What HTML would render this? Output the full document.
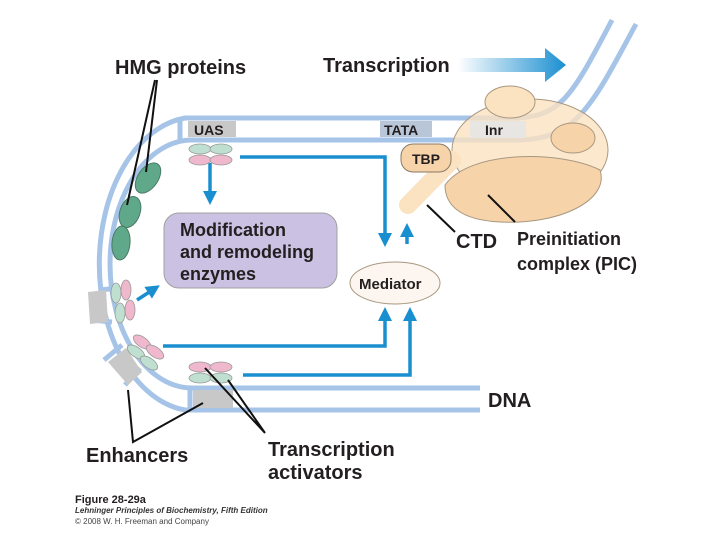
<!DOCTYPE html>
<html><head><meta charset="utf-8"><style>
html,body{margin:0;padding:0;background:#fff;}
svg{display:block;font-family:"Liberation Sans",sans-serif;}
.b{font-weight:bold;fill:#231f20;}
</style></head><body>
<svg width="720" height="540" viewBox="0 0 720 540" xmlns="http://www.w3.org/2000/svg">
<defs>
<linearGradient id="g" x1="0" x2="1"><stop offset="0" stop-color="#1a8fd0" stop-opacity="0"/><stop offset="1" stop-color="#1a8fd0"/></linearGradient>
<marker id="ah" markerWidth="4" markerHeight="4" refX="2" refY="2" orient="auto" markerUnits="strokeWidth"><path d="M0,0 L4,2 L0,4 Z" fill="#1a8fd0"/></marker>
</defs>
<path d="M458,58 H545 V48 L566,65 L545,82 V72 H458 Z" fill="url(#g)"/>
<g fill="none" stroke="#a6c4e8" stroke-width="5">
<path d="M520,118 H185 A97,147 0 0 0 185,410 H480"/>
<path d="M520,140 H192 A82,124 0 0 0 192,388 H480"/>
<path d="M510,118 C560,118 570,100 612,20"/>
<path d="M515,140 C575,140 590,110 636,24"/>
<path d="M100,290 L118,288 M92,320 L112,322 M104,360 L122,345 M125,385 L140,368 M190,388 V410 M180,118 V140"/>
</g>
<rect x="188" y="121" width="48" height="16" fill="#c8c8c8"/>
<text x="194" y="135" class="b" font-size="14">UAS</text>
<rect x="380" y="121" width="52" height="16" fill="#b8c6d8"/>
<text x="384" y="135" class="b" font-size="14">TATA</text>
<rect x="193" y="390" width="40" height="18" fill="#c8c8c8"/>
<path d="M88,292 L106,290 L108,322 L90,324 Z" fill="#c8c8c8"/>
<path d="M108,362 L126,348 L142,372 L128,385 Z" fill="#c8c8c8"/>
<ellipse cx="530" cy="150" rx="78" ry="51" fill="#fbe2c0" fill-opacity="0.8" stroke="#a89880" stroke-width="1"/>
<path d="M445,185 C470,150 560,150 600,170 C610,200 560,225 500,222 C460,220 445,205 445,185Z" fill="#f6d3a8" stroke="#a89880"/>
<rect x="470" y="121" width="56" height="17" fill="#e6e6e6" opacity="0.9"/>
<text x="485" y="135" class="b" font-size="14">Inr</text>
<ellipse cx="510" cy="102" rx="25" ry="16" fill="#fbe2c0" stroke="#a89880"/>
<ellipse cx="573" cy="138" rx="22" ry="15" fill="#f6d3a8" stroke="#a89880"/>
<path d="M408,205 L452,160" stroke="#fbe2c0" stroke-width="18" stroke-linecap="round"/>
<rect x="401" y="144" width="50" height="28" rx="12" fill="#f6d3a8" stroke="#8a7a66"/>
<text x="412" y="164" class="b" font-size="14">TBP</text>
<rect x="164" y="213" width="173" height="75" rx="15" fill="#cbc1e2" stroke="#a0a0a0"/>
<text class="b" font-size="18"><tspan x="180" y="236">Modification</tspan><tspan x="180" y="258">and remodeling</tspan><tspan x="180" y="280">enzymes</tspan></text>
<ellipse cx="395" cy="283" rx="45" ry="21" fill="#fdf5f0" stroke="#a89880"/>
<text x="359" y="289" class="b" font-size="15">Mediator</text>
<g fill="none" stroke="#1a8fd0" stroke-width="3.5">
<path d="M240,157 H385 V240" marker-end="url(#ah)"/>
<path d="M407,244 V230" marker-end="url(#ah)"/>
<path d="M163,346 H385 V314" marker-end="url(#ah)"/>
<path d="M243,375 H410 V314" marker-end="url(#ah)"/>
<path d="M210,163 V198" marker-end="url(#ah)"/>
<path d="M137,300 L154,289" marker-end="url(#ah)"/>
</g>
<g fill="#5fa88a" stroke="#4a7a66">
<ellipse cx="148" cy="178" rx="10" ry="17" transform="rotate(35 148 178)"/>
<ellipse cx="130" cy="212" rx="10" ry="16" transform="rotate(20 130 212)"/>
<ellipse cx="121" cy="243" rx="9" ry="17" transform="rotate(5 121 243)"/>
</g>
<g stroke="#999" stroke-width="0.8">
<ellipse cx="200" cy="149" rx="11" ry="5" fill="#bfe0d0"/><ellipse cx="221" cy="149" rx="11" ry="5" fill="#bfe0d0"/>
<ellipse cx="200" cy="160" rx="11" ry="5" fill="#f0b8cc"/><ellipse cx="221" cy="160" rx="11" ry="5" fill="#f0b8cc"/>
<ellipse cx="200" cy="367" rx="11" ry="5" fill="#f0b8cc"/><ellipse cx="221" cy="367" rx="11" ry="5" fill="#f0b8cc"/>
<ellipse cx="200" cy="378" rx="11" ry="5" fill="#bfe0d0"/><ellipse cx="221" cy="378" rx="11" ry="5" fill="#bfe0d0"/>
<ellipse cx="116" cy="293" rx="5" ry="10" fill="#bfe0d0"/><ellipse cx="126" cy="290" rx="5" ry="10" fill="#f0b8cc"/>
<ellipse cx="120" cy="313" rx="5" ry="10" fill="#bfe0d0"/><ellipse cx="130" cy="310" rx="5" ry="10" fill="#f0b8cc"/>
<ellipse cx="142" cy="342" rx="10" ry="5" transform="rotate(35 142 342)" fill="#f0b8cc"/>
<ellipse cx="136" cy="352" rx="10" ry="5" transform="rotate(35 136 352)" fill="#bfe0d0"/>
<ellipse cx="155" cy="352" rx="10" ry="5" transform="rotate(35 155 352)" fill="#f0b8cc"/>
<ellipse cx="149" cy="363" rx="10" ry="5" transform="rotate(35 149 363)" fill="#bfe0d0"/>
</g>
<g stroke="#111" stroke-width="2" fill="none">
<path d="M155,80 L127,205 M157,80 L146,172"/>
<path d="M427,205 L455,232"/>
<path d="M488,195 L515,222"/>
<path d="M128,390 L133,442 L203,403"/>
<path d="M205,368 L265,433 L228,380"/>
</g>
<text x="115" y="74" class="b" font-size="20">HMG proteins</text>
<text x="323" y="72" class="b" font-size="20">Transcription</text>
<text x="456" y="248" class="b" font-size="20">CTD</text>
<text class="b" font-size="18"><tspan x="517" y="245">Preinitiation</tspan><tspan x="517" y="270">complex (PIC)</tspan></text>
<text x="488" y="407" class="b" font-size="20">DNA</text>
<text x="86" y="462" class="b" font-size="20">Enhancers</text>
<text class="b" font-size="20"><tspan x="268" y="456">Transcription</tspan><tspan x="268" y="479">activators</tspan></text>
<text x="75" y="503" class="b" font-size="11">Figure 28-29a</text>
<text x="75" y="513" font-size="8" font-style="italic" font-weight="bold" fill="#333">Lehninger Principles of Biochemistry, Fifth Edition</text>
<text x="75" y="524" font-size="8" fill="#444">© 2008 W. H. Freeman and Company</text>
</svg>
</body></html>
